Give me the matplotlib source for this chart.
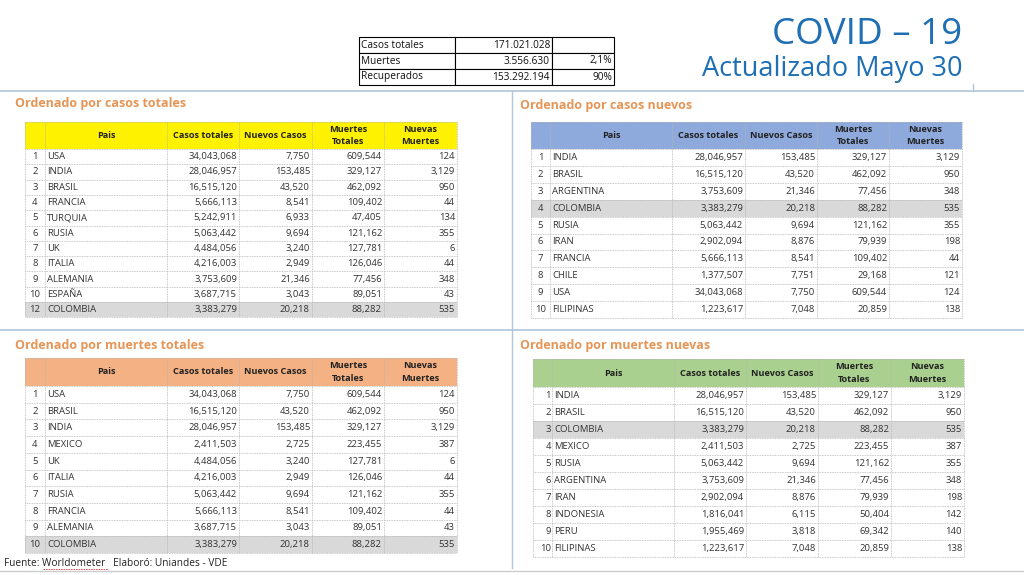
import matplotlib.pyplot as plt
from matplotlib.patches import Rectangle

plt.rcParams['font.family'] = ['Open Sans', 'DejaVu Sans']

# === DATA ===
header = ["Pais", "Casos totales", "Nuevos Casos", "Muertes\nTotales", "Nuevas\nMuertes"]

# resumen global
resumen_labels = ["Casos totales", "Muertes", "Recuperados"]
resumen_values = [171021028, 3556630, 153292194]
resumen_pct = ["", "2,1%", "90%"]

# ordenado por casos totales
t1_idx = [1, 2, 3, 4, 5, 6, 7, 8, 9, 10, 12]
t1_pais = ["USA", "INDIA", "BRASIL", "FRANCIA", "TURQUIA", "RUSIA", "UK", "ITALIA",
           "ALEMANIA", "ESPAÑA", "COLOMBIA"]
t1_casos = [34043068, 28046957, 16515120, 5666113, 5242911, 5063442, 4484056, 4216003,
            3753609, 3687715, 3383279]
t1_nuevos = [7750, 153485, 43520, 8541, 6933, 9694, 3240, 2949, 21346, 3043, 20218]
t1_muertes = [609544, 329127, 462092, 109402, 47405, 121162, 127781, 126046, 77456, 89051, 88282]
t1_nuevas = [124, 3129, 950, 44, 134, 355, 6, 44, 348, 43, 535]

# ordenado por casos nuevos
t2_idx = [1, 2, 3, 4, 5, 6, 7, 8, 9, 10]
t2_pais = ["INDIA", "BRASIL", "ARGENTINA", "COLOMBIA", "RUSIA", "IRAN", "FRANCIA", "CHILE",
           "USA", "FILIPINAS"]
t2_casos = [28046957, 16515120, 3753609, 3383279, 5063442, 2902094, 5666113, 1377507,
            34043068, 1223617]
t2_nuevos = [153485, 43520, 21346, 20218, 9694, 8876, 8541, 7751, 7750, 7048]
t2_muertes = [329127, 462092, 77456, 88282, 121162, 79939, 109402, 29168, 609544, 20859]
t2_nuevas = [3129, 950, 348, 535, 355, 198, 44, 121, 124, 138]

# ordenado por muertes totales
t3_idx = [1, 2, 3, 4, 5, 6, 7, 8, 9, 10]
t3_pais = ["USA", "BRASIL", "INDIA", "MEXICO", "UK", "ITALIA", "RUSIA", "FRANCIA",
           "ALEMANIA", "COLOMBIA"]
t3_casos = [34043068, 16515120, 28046957, 2411503, 4484056, 4216003, 5063442, 5666113,
            3687715, 3383279]
t3_nuevos = [7750, 43520, 153485, 2725, 3240, 2949, 9694, 8541, 3043, 20218]
t3_muertes = [609544, 462092, 329127, 223455, 127781, 126046, 121162, 109402, 89051, 88282]
t3_nuevas = [124, 950, 3129, 387, 6, 44, 355, 44, 43, 535]

# ordenado por muertes nuevas
t4_idx = [1, 2, 3, 4, 5, 6, 7, 8, 9, 10]
t4_pais = ["INDIA", "BRASIL", "COLOMBIA", "MEXICO", "RUSIA", "ARGENTINA", "IRAN",
           "INDONESIA", "PERU", "FILIPINAS"]
t4_casos = [28046957, 16515120, 3383279, 2411503, 5063442, 3753609, 2902094, 1816041,
            1955469, 1223617]
t4_nuevos = [153485, 43520, 20218, 2725, 9694, 21346, 8876, 6115, 3818, 7048]
t4_muertes = [329127, 462092, 88282, 223455, 121162, 77456, 79939, 50404, 69342, 20859]
t4_nuevas = [3129, 950, 535, 387, 355, 348, 198, 142, 140, 138]

# === FIGURE ===
fig = plt.figure(figsize=(10.24, 5.75), dpi=100)
ax = fig.add_axes([0, 0, 1, 1])
ax.set_xlim(0, 1024)
ax.set_ylim(575, 0)
ax.axis('off')

TXT = '#333333'
ORANGE = '#E59556'
GRID = '#b5b5b5'
SEP = '#AFC6DC'
BLUE = '#1F6FB4'


def draw_table(cols, y0, head_h, row_h, head_color, idx, pais, casos, nuevos, muertes,
               nuevas, highlight, idx_right=False):
    n = len(pais)
    x0, x1 = cols[0], cols[-1]
    y1 = y0 + head_h + n * row_h
    ax.add_patch(Rectangle((x0, y0), x1 - x0, head_h, facecolor=head_color, edgecolor='none'))
    yh = y0 + head_h + highlight * row_h
    ax.add_patch(Rectangle((x0, yh), x1 - x0, row_h, facecolor='#D9D9D9', edgecolor='none'))
    # header text
    for j, h in enumerate(header):
        xc = (cols[j + 1] + cols[j + 2]) / 2
        ax.text(xc, y0 + head_h / 2, h, ha='center', va='center', fontsize=6.6,
                fontweight='bold', color='#222222', linespacing=1.5)
    # grid lines
    for x in cols:
        ax.plot([x, x], [y0, y1], color=GRID, lw=0.6, ls=(0, (1, 1)))
    for i in range(n + 1):
        y = y0 + head_h + i * row_h
        ax.plot([x0, x1], [y, y], color=GRID, lw=0.6, ls=(0, (1, 1)))
    ax.plot([x0, x1], [y0, y0], color=GRID, lw=0.6, ls=(0, (1, 1)))
    # rows
    for i in range(n):
        yc = y0 + head_h + (i + 0.5) * row_h
        if idx_right:
            ax.text(cols[1] - 1, yc, str(idx[i]), ha='right', va='center', fontsize=6.8, color=TXT)
        else:
            ax.text((cols[0] + cols[1]) / 2, yc, str(idx[i]), ha='center', va='center',
                    fontsize=6.8, color=TXT)
        ax.text(cols[1] + 2, yc, pais[i], ha='left', va='center', fontsize=6.8, color=TXT)
        for j, v in enumerate([casos[i], nuevos[i], muertes[i], nuevas[i]]):
            ax.text(cols[j + 3] - 2, yc, f"{v:,}", ha='right', va='center', fontsize=6.8,
                    color=TXT)


# separators
ax.plot([0, 1024], [91, 91], color=SEP, lw=1.2)
ax.plot([973, 973], [84, 91], color=SEP, lw=1.0)
ax.plot([0, 1024], [330, 330], color=SEP, lw=1.2)
ax.plot([512, 512], [91, 568], color=SEP, lw=1.0)
ax.plot([0, 1024], [571, 571], color='#cccccc', lw=1.0)

# title
ax.text(962, 35, "COVID – 19", ha='right', va='center', fontsize=26.5, color=BLUE)
ax.text(962, 69, "Actualizado Mayo 30", ha='right', va='center', fontsize=19.5, color=BLUE)

# summary table
rc = [359, 455, 552, 614]
ry = 37
rh = 16
for i in range(len(resumen_labels)):
    y = ry + i * rh
    for j in range(3):
        ax.add_patch(Rectangle((rc[j], y), rc[j + 1] - rc[j], rh, facecolor='white',
                               edgecolor='black', lw=0.8))
    ax.text(rc[0] + 2, y + rh / 2, resumen_labels[i], ha='left', va='center', fontsize=7.3,
            color='#111111')
    ax.text(rc[2] - 2, y + rh / 2, f"{resumen_values[i]:,}".replace(",", "."), ha='right',
            va='center', fontsize=7.3, color='#111111')
    ax.text(rc[3] - 2, y + rh / 2, resumen_pct[i], ha='right', va='center', fontsize=7.3,
            color='#111111')

# section titles
ax.text(15, 104, "Ordenado por casos totales", ha='left', va='center', fontsize=9,
        fontweight='bold', color=ORANGE)
ax.text(520, 106, "Ordenado por casos nuevos", ha='left', va='center', fontsize=9,
        fontweight='bold', color=ORANGE)
ax.text(15, 346, "Ordenado por muertes totales", ha='left', va='center', fontsize=9,
        fontweight='bold', color=ORANGE)
ax.text(520, 345, "Ordenado por muertes nuevas", ha='left', va='center', fontsize=9,
        fontweight='bold', color=ORANGE)

# tables
draw_table([25, 45, 167, 239, 312, 384, 457], 122, 27, 15.3, '#FFF200',
           t1_idx, t1_pais, t1_casos, t1_nuevos, t1_muertes, t1_nuevas, highlight=10)
draw_table([531, 550, 672, 745, 817, 889, 962], 122, 27, 16.9, '#8EA9DB',
           t2_idx, t2_pais, t2_casos, t2_nuevos, t2_muertes, t2_nuevas, highlight=3)
draw_table([25, 45, 167, 239, 312, 384, 457], 358, 28, 16.7, '#F4B183',
           t3_idx, t3_pais, t3_casos, t3_nuevos, t3_muertes, t3_nuevas, highlight=9)
draw_table([533, 552, 674, 746, 818, 891, 964], 359, 28, 17.0, '#A9D08E',
           t4_idx, t4_pais, t4_casos, t4_nuevos, t4_muertes, t4_nuevas, highlight=2,
           idx_right=True)

# footer
ax.text(4, 563, "Fuente: Worldometer   Elaboró: Uniandes - VDE", ha='left', va='center',
        fontsize=7.3, color='#222222')
ax.plot([43, 108], [569, 569], color='#d04040', lw=0.6, ls=(0, (2, 1)))

fig.savefig("out.png", dpi=100)
